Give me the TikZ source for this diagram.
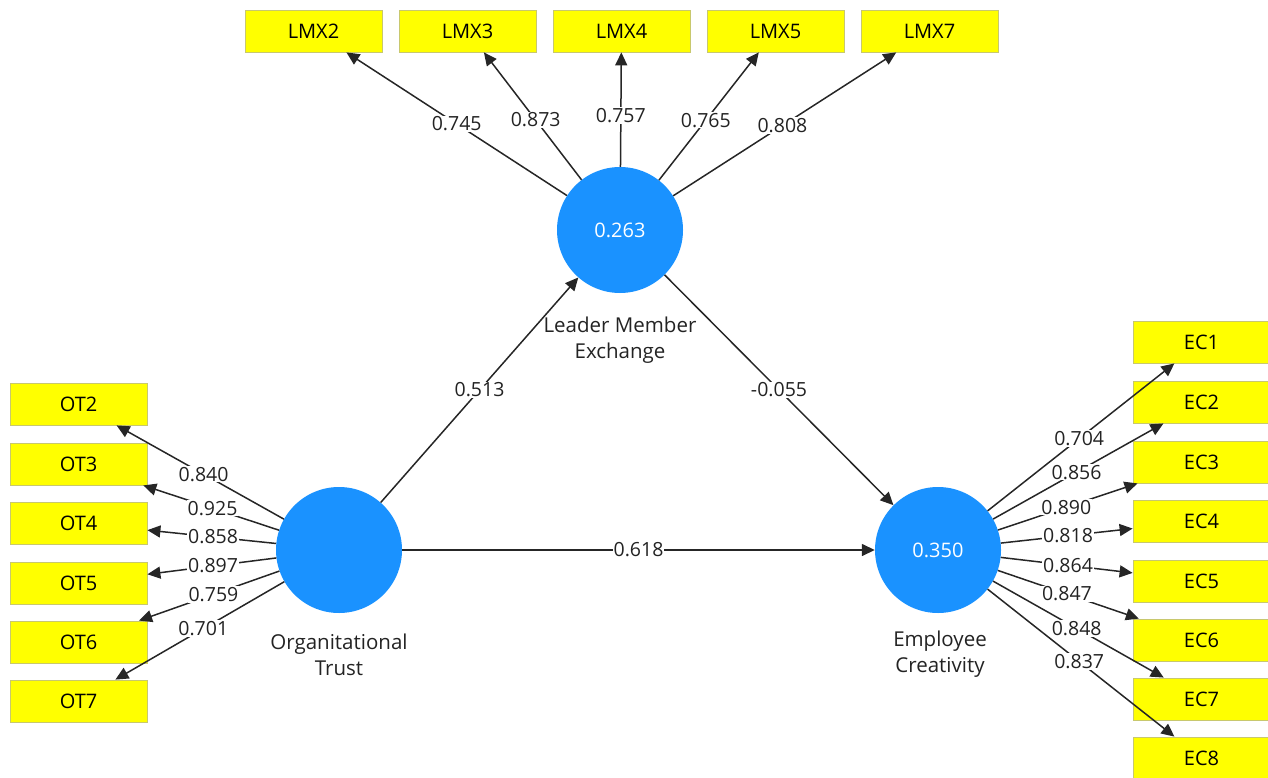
\documentclass[tikz,border=0pt]{standalone}
\usepackage{fontspec}
\setmainfont{Open Sans}
\usetikzlibrary{arrows.meta}
\definecolor{lvblue}{RGB}{26,146,255}
\definecolor{indyel}{RGB}{255,255,0}
\definecolor{indbord}{RGB}{200,200,110}
\definecolor{txtgray}{RGB}{35,35,35}
\begin{document}
\begin{tikzpicture}[x=1pt,y=-1pt,
  indbox/.style={rectangle,fill=indyel,draw=indbord,line width=0.8pt,minimum width=137pt,minimum height=42pt,inner sep=0pt,font=\fontsize{20}{22}\selectfont,text=black},
  lvcirc/.style={circle,fill=lvblue,minimum size=126pt,inner sep=0pt,text=white,font=\fontsize{20}{22}\selectfont},
  lvname/.style={align=center,font=\fontsize{20.5}{26}\selectfont,text=txtgray},
  ldarrow/.style={draw=black!85,line width=1.5pt,-{Triangle[length=13pt,width=12pt]}},
  lbl/.style={fill=white,inner sep=1pt,font=\fontsize{19.5}{21}\selectfont,text=txtgray},
]
\useasboundingbox (0,0) rectangle (1268,778);

% latent variables
\node[lvcirc] (LMX) at (620,230) {0.263};
\node[lvcirc] (OT) at (339,550) {};
\node[lvcirc] (EC) at (938,550) {0.350};
\node[lvname] (LMXn) at (620,340) {Leader Member\\Exchange};
\node[lvname] (OTn) at (339,655) {Organitational\\Trust};
\node[lvname] (ECn) at (940,654) {Employee\\Creativity};

% LMX indicators
\node[indbox] (LMX2) at (313.5,31) {LMX2};
\node[indbox] (LMX3) at (467.5,31) {LMX3};
\node[indbox] (LMX4) at (621.5,31) {LMX4};
\node[indbox] (LMX5) at (775.5,31) {LMX5};
\node[indbox] (LMX7) at (929.5,31) {LMX7};

% OT indicators
\node[indbox] (OT2) at (78.5,404) {OT2};
\node[indbox] (OT3) at (78.5,464) {OT3};
\node[indbox] (OT4) at (78.5,523) {OT4};
\node[indbox] (OT5) at (78.5,583) {OT5};
\node[indbox] (OT6) at (78.5,642) {OT6};
\node[indbox] (OT7) at (78.5,701) {OT7};

% EC indicators
\node[indbox] (EC1) at (1201.5,342) {EC1};
\node[indbox] (EC2) at (1201.5,402) {EC2};
\node[indbox] (EC3) at (1201.5,462) {EC3};
\node[indbox] (EC4) at (1201.5,521) {EC4};
\node[indbox] (EC5) at (1201.5,581) {EC5};
\node[indbox] (EC6) at (1201.5,640) {EC6};
\node[indbox] (EC7) at (1201.5,699) {EC7};
\node[indbox] (EC8) at (1201.5,758) {EC8};

% LMX loadings
\draw[ldarrow] (LMX) -- node[lbl,pos=0.50] {0.745} (LMX2);
\draw[ldarrow] (LMX) -- node[lbl,pos=0.47] {0.873} (LMX3);
\draw[ldarrow] (LMX) -- node[lbl,pos=0.45] {0.757} (LMX4);
\draw[ldarrow] (LMX) -- node[lbl,pos=0.47] {0.765} (LMX5);
\draw[ldarrow] (LMX) -- node[lbl,pos=0.49] {0.808} (LMX7);

% OT loadings
\draw[ldarrow] (OT) -- node[lbl,pos=0.48] {0.840} (OT2);
\draw[ldarrow] (OT) -- node[lbl,pos=0.49] {0.925} (OT3);
\draw[ldarrow] (OT) -- node[lbl,pos=0.49] {0.858} (OT4);
\draw[ldarrow] (OT) -- node[lbl,pos=0.49] {0.897} (OT5);
\draw[ldarrow] (OT) -- node[lbl,pos=0.47] {0.759} (OT6);
\draw[ldarrow] (OT) -- node[lbl,pos=0.48] {0.701} (OT7);

% EC loadings
\draw[ldarrow] (EC) -- node[lbl,pos=0.49] {0.704} (EC1);
\draw[ldarrow] (EC) -- node[lbl,pos=0.49] {0.856} (EC2);
\draw[ldarrow] (EC) -- node[lbl,pos=0.49] {0.890} (EC3);
\draw[ldarrow] (EC) -- node[lbl,pos=0.51] {0.818} (EC4);
\draw[ldarrow] (EC) -- node[lbl,pos=0.51] {0.864} (EC5);
\draw[ldarrow] (EC) -- node[lbl,pos=0.49] {0.847} (EC6);
\draw[ldarrow] (EC) -- node[lbl,pos=0.49] {0.848} (EC7);
\draw[ldarrow] (EC) -- node[lbl,pos=0.49] {0.837} (EC8);

% structural paths
\draw[ldarrow] (OT) -- node[lbl,pos=0.5] {0.513} (LMX);
\draw[ldarrow] (LMX) -- node[lbl,pos=0.5] {-0.055} (EC);
\draw[ldarrow] (OT) -- node[lbl,pos=0.5] {0.618} (EC);
\end{tikzpicture}
\end{document}
